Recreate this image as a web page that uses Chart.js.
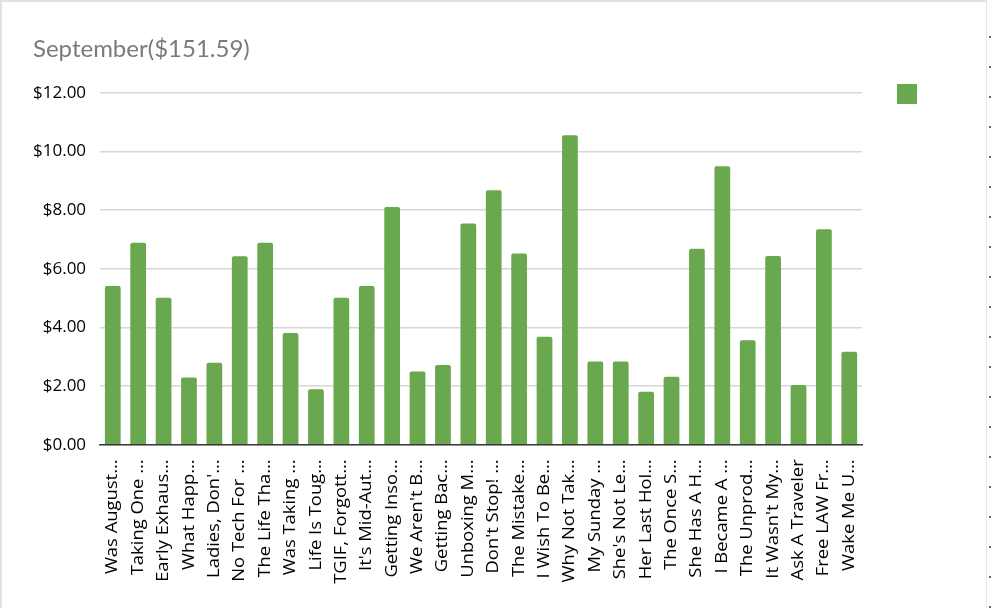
<!DOCTYPE html>
<html>
<head>
<meta charset="utf-8">
<script src="https://cdn.jsdelivr.net/npm/chart.js@4.4.1/dist/chart.umd.min.js"></script>
<style>
  html, body { margin: 0; padding: 0; background: #ffffff; }
  #wrap { position: relative; width: 992px; height: 608px; overflow: hidden; }
  #c { position: absolute; left: 0; top: 0; }
  .frameTop { position: absolute; left: 0; top: 0; width: 987px; height: 2px; background: #e2e2e2; pointer-events: none; }
  .frameLeft { position: absolute; left: 0; top: 0; width: 2px; height: 608px; background: #e2e2e2; pointer-events: none; }
  .frameRight { position: absolute; left: 986px; top: 0; width: 1px; height: 608px; background: #e4e4e4; pointer-events: none; }
  .dots { position: absolute; left: 989px; top: 22px; width: 2px; height: 586px; pointer-events: none;
          background: repeating-linear-gradient(to bottom, transparent 0px, transparent 14px, #666 14px, #666 16px, transparent 16px, transparent 30px); }
</style>
</head>
<body>
<div id="wrap">
  <canvas id="c" width="992" height="608"></canvas>
  <div class="frameTop"></div>
  <div class="frameLeft"></div>
  <div class="frameRight"></div>
  <div class="dots"></div>
</div>
<script>
const chartTitle = 'September($151.59)';

const categories = [
  "Was August...", "Taking One ...", "Early Exhaus...", "What Happ...", "Ladies, Don'...",
  "No Tech For ...", "The Life Tha...", "Was Taking ...", "Life Is Toug...", "TGIF, Forgott...",
  "It's Mid-Aut...", "Getting Inso...", "We Aren't B...", "Getting Bac...", "Unboxing M...",
  "Don't Stop! ...", "The Mistake...", "I Wish To Be...", "Why Not Tak...", "My Sunday ...",
  "She's Not Le...", "Her Last Hol...", "The Once S...", "She Has A H...", "I Became A ...",
  "The Unprod...", "It Wasn't My...", "Ask A Traveler", "Free LAW Fr...", "Wake Me U..."
];

const earnings = [
  5.41, 6.89, 5.01, 2.29, 2.80,
  6.43, 6.89, 3.81, 1.89, 5.01,
  5.41, 8.11, 2.50, 2.72, 7.54,
  8.68, 6.52, 3.68, 10.55, 2.84,
  2.84, 1.81, 2.32, 6.68, 9.50,
  3.56, 6.44, 2.04, 7.35, 3.17
];

const yMin = 0;
const yMax = 12;
const yStep = 2;

const barColor = '#6aa84f';

// Stretch the rotated x labels along their text direction (reference text is widely tracked)
const STRETCH = 1.15;
const LABEL_SHIFT = 5;
const labelStretchPlugin = {
  id: 'xLabelStretch',
  afterLayout(chart) {
    const s = chart.scales.x;
    if (s && !s.__wrapped) {
      const orig = s.drawLabels.bind(s);
      s.drawLabels = function(area) {
        const c = this.ctx;
        const y0 = this.top;
        c.save();
        c.translate(0, y0 - LABEL_SHIFT);
        c.scale(1, STRETCH);
        c.translate(0, -y0);
        orig(area);
        c.restore();
      };
      s.__wrapped = true;
    }
  }
};

new Chart(document.getElementById('c'), {
  type: 'bar',
  data: {
    labels: categories,
    datasets: [{
      label: '',
      data: earnings,
      backgroundColor: barColor,
      borderWidth: 0,
      borderRadius: 2,
      barPercentage: 0.62,
      categoryPercentage: 1.0
    }]
  },
  options: {
    responsive: false,
    animation: false,
    devicePixelRatio: 1,
    layout: { padding: { left: 33, right: 59, top: 0, bottom: 29 } },
    plugins: {
      title: {
        display: true,
        text: chartTitle,
        align: 'start',
        color: '#7a7a7a',
        font: { family: 'Lato', size: 24, weight: 'normal' },
        padding: { top: 35, bottom: 29 }
      },
      legend: {
        display: true,
        position: 'right',
        align: 'start',
        title: { display: true, text: '', font: { size: 10 }, padding: { top: 37, bottom: 0 } },
        labels: {
          boxWidth: 20,
          boxHeight: 20,
          padding: 35,
          font: { size: 12 },
          color: '#000'
        }
      },
      tooltip: { enabled: false }
    },
    scales: {
      x: {
        grid: { display: false },
        border: { display: true, color: '#3a3a3a', width: 1.5 },
        ticks: {
          autoSkip: false,
          maxRotation: 90,
          minRotation: 90,
          padding: 9,
          color: '#000',
          font: { family: 'Open Sans', size: 16 }
        }
      },
      y: {
        min: yMin,
        max: yMax,
        grid: { color: '#d6d6d6', lineWidth: 1.4, drawTicks: false },
        border: { display: false },
        afterFit(scale) { scale.width = scale.width - 14; },
        ticks: {
          stepSize: yStep,
          padding: 14,
          color: '#000',
          font: { family: 'Open Sans', size: 17 },
          callback: v => '$' + Number(v).toFixed(2)
        }
      }
    }
  },
  plugins: [labelStretchPlugin]
});
</script>
</body>
</html>
